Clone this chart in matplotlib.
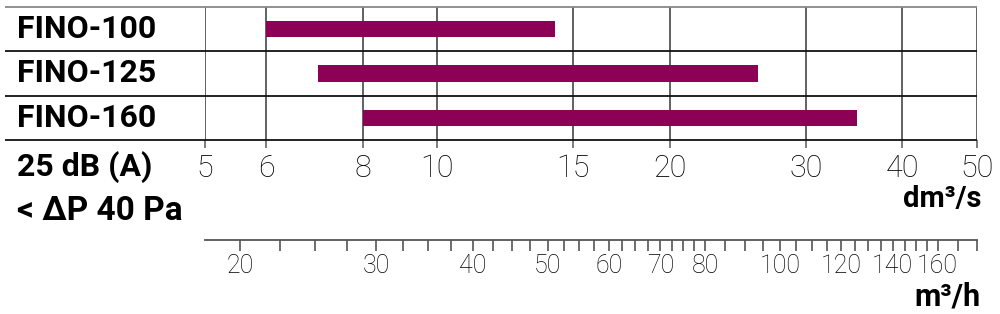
import matplotlib
matplotlib.use("Agg")
import matplotlib.pyplot as plt
import matplotlib.ticker as ticker

# air flow range per model at 25 dB(A), dP < 40 Pa
models = ["FINO-100", "FINO-125", "FINO-160"]
flow_min = [6.0, 7.0, 8.0]
flow_max = [14.2, 26.0, 35.0]

dm3s_ticks = [5, 6, 8, 10, 15, 20, 30, 40, 50]
m3h_major = [20, 30, 40, 50, 60, 70, 80, 100, 120, 140, 160]
m3h_minor = [22.5, 25, 27.5, 32.5, 35, 37.5, 42.5, 45, 47.5, 52.5, 55, 57.5,
             62.5, 65, 67.5, 72.5, 75, 77.5, 85, 90, 95, 105, 110, 115,
             125, 130, 135, 145, 150, 155, 170, 180]

BAR = "#8c0055"
plt.rcParams['font.family'] = ['Roboto', 'DejaVu Sans']

def main():
    fig = plt.figure(figsize=(10, 3.14), dpi=100)
    W, H = 1000, 314

    # main chart: x 205..977 px, y 7..140 px from top
    ax = fig.add_axes([205 / W, 1 - 140 / H, 772 / W, 133 / H])
    ax.set_xscale("log")
    ax.set_xlim(5, 50)
    ax.set_ylim(0, 3)
    ypos = [2.5, 1.5, 0.5]
    widths = [b - a for a, b in zip(flow_min, flow_max)]
    ax.barh(ypos, widths, left=flow_min, height=0.37, color=BAR, zorder=3)

    ax.xaxis.set_major_locator(ticker.FixedLocator(dm3s_ticks))
    ax.xaxis.set_minor_locator(ticker.NullLocator())
    ax.xaxis.set_major_formatter(ticker.FixedFormatter([str(t) for t in dm3s_ticks]))
    ax.tick_params(axis="x", direction="out", length=6, width=1.2, color="#666666",
                   pad=4, labelsize=22, labelcolor="black")
    for lab in ax.get_xticklabels():
        lab.set_fontweight("light")
    ax.set_yticks([])
    ax.grid(axis="x", color="#555555", lw=1.3, zorder=1)
    for s in ax.spines.values():
        s.set_visible(False)

    # horizontal rules run under the model names too
    ax.hlines([3], -0.259, 1, transform=ax.get_yaxis_transform(),
              color="#888888", lw=1.3, clip_on=False)
    ax.hlines([2, 1, 0], -0.259, 1, transform=ax.get_yaxis_transform(),
              color="#111111", lw=1.3, clip_on=False)

    for y, name in zip(ypos, models):
        ax.text(-0.2435, y, name, transform=ax.get_yaxis_transform(),
                ha="left", va="center", fontsize=23, fontweight="bold")

    fig.text(17 / W, 1 - 167 / H, "25 dB (A)", ha="left", va="center",
             fontsize=23, fontweight="bold")
    fig.text(17 / W, 1 - 211 / H, "< ΔP 40 Pa", ha="left", va="center",
             fontsize=24, fontweight="bold")
    fig.text(981 / W, 1 - 207 / H, "dm³/s", ha="right", va="baseline",
             fontsize=21, fontweight="bold")

    # second scale in m3/h (1 dm3/s = 3.6 m3/h)
    ax2 = fig.add_axes([205 / W, 1 - 240 / H, 772 / W, 0.001])
    ax2.set_xscale("log")
    ax2.set_xlim(5 * 3.6, 50 * 3.6)
    ax2.set_ylim(0, 1)
    ax2.set_yticks([])
    for k in ["top", "left", "right"]:
        ax2.spines[k].set_visible(False)
    ax2.spines["bottom"].set_color("#555555")
    ax2.spines["bottom"].set_linewidth(1.3)
    ax2.xaxis.set_major_locator(ticker.FixedLocator(m3h_major))
    ax2.xaxis.set_minor_locator(ticker.FixedLocator(m3h_minor))
    ax2.xaxis.set_major_formatter(ticker.FixedFormatter([str(t) for t in m3h_major]))
    ax2.xaxis.set_minor_formatter(ticker.NullFormatter())
    ax2.tick_params(axis="x", which="both", direction="out", length=8, width=1.2,
                    color="#555555", pad=2, labelsize=18, labelcolor="black")
    for lab in ax2.get_xticklabels():
        lab.set_fontweight("light")
    fig.text(981 / W, 1 - 306 / H, "m³/h", ha="right", va="baseline",
             fontsize=22, fontweight="bold")

    fig.savefig("out.png", dpi=100)
    return 0

if __name__ == "__main__":
    main()
